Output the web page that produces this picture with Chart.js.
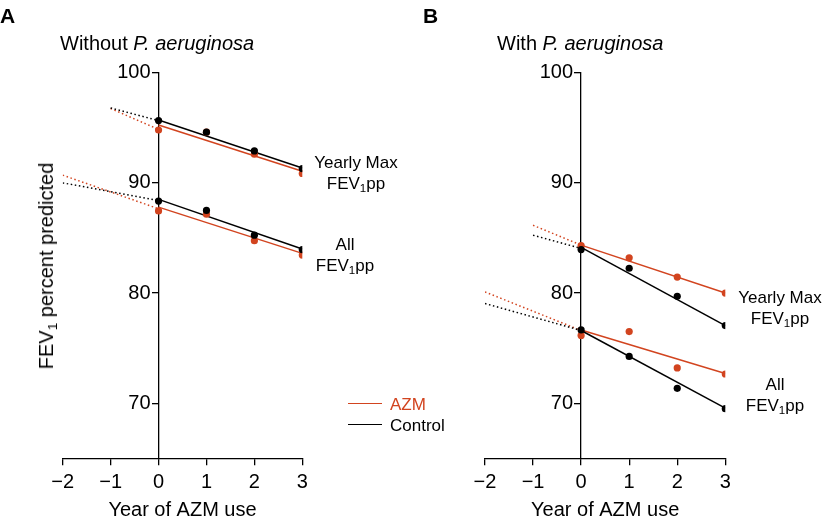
<!DOCTYPE html>
<html>
<head>
<meta charset="utf-8">
<script src="https://cdn.jsdelivr.net/npm/chart.js@4.4.0/dist/chart.umd.min.js"></script>
<style>
  body { margin: 0; background: #fff; }
  #wrap { position: relative; width: 825px; height: 523px; overflow: hidden;
          font-family: 'Liberation Sans', Arial, Helvetica, sans-serif; color: #000; }
  canvas { position: absolute; top: 0; }
  .t { position: absolute; white-space: nowrap; line-height: 1; }
  .ann { position: absolute; white-space: nowrap; font-size: 17px; line-height: 21px; text-align: center; transform: translateX(-50%); }
  .s { font-size: 68%; position: relative; top: 0.3em; line-height: 0; }
  .leg { position: absolute; height: 0; border-top: 1.5px solid; width: 34px; }
</style>
</head>
<body>
<div id="wrap">
  <canvas id="panelA" width="412" height="523" style="left:0;width:412px;height:523px"></canvas>
  <canvas id="panelB" width="413" height="523" style="left:412px;width:413px;height:523px"></canvas>

  <div class="t" style="left:0;top:5px;font-size:21px;font-weight:bold">A</div>
  <div class="t" style="left:423px;top:5px;font-size:21px;font-weight:bold">B</div>
  <div class="t" style="left:60px;top:33px;font-size:20px">Without <i>P. aeruginosa</i></div>
  <div class="t" style="left:497px;top:33px;font-size:20px">With <i>P. aeruginosa</i></div>

  <div class="t" style="left:46px;top:266px;font-size:20px;transform:translate(-50%,-50%) rotate(-90deg)">FEV<span class="s">1</span> percent predicted</div>

  <div class="ann" style="left:356px;top:152px">Yearly Max<br>FEV<span class="s">1</span>pp</div>
  <div class="ann" style="left:345px;top:234px">All<br>FEV<span class="s">1</span>pp</div>
  <div class="ann" style="left:780px;top:287px">Yearly Max<br>FEV<span class="s">1</span>pp</div>
  <div class="ann" style="left:775px;top:374px">All<br>FEV<span class="s">1</span>pp</div>

  <div class="leg" style="left:348px;top:403px;border-color:#d2441f"></div>
  <div class="t" style="left:390px;top:396px;font-size:17px;color:#d2441f">AZM</div>
  <div class="leg" style="left:348px;top:424px;border-color:#000"></div>
  <div class="t" style="left:390px;top:417px;font-size:17px">Control</div>
</div>

<script>
// x values and tick labels
const years = [0, 1, 2, 3];
const fitYears = [0, 3];
const maxPreYears = [-1, 0];
const allPreYears = [-2, 0];
const xTicks = [-2, -1, 0, 1, 2, 3];
const yTicks = [70, 80, 90, 100];

// Panel A - without P. aeruginosa
const maxAzmA = [94.8, 94.6, 92.6, 90.85];
const maxCtrlA = [95.65, 94.6, 92.9, 91.3];
const allAzmA = [87.45, 87.15, 84.75, 83.45];
const allCtrlA = [88.35, 87.5, 85.25, 83.95];
const maxAzmFitA = [95.25, 91.05];
const maxCtrlFitA = [95.7, 91.35];
const allAzmFitA = [87.8, 83.6];
const allCtrlFitA = [88.5, 84.0];
const maxAzmPreA = [96.75, 94.85];
const maxCtrlPreA = [96.8, 95.65];
const allAzmPreA = [90.7, 87.65];
const allCtrlPreA = [90.0, 88.4];

// Panel B - with P. aeruginosa
const maxAzmB = [84.3, 83.2, 81.45, 80.0];
const maxCtrlB = [83.95, 82.25, 79.7, 77.05];
const allAzmB = [76.15, 76.5, 73.2, 72.65];
const allCtrlB = [76.65, 74.25, 71.35, 69.5];
const maxAzmFitB = [84.35, 80.0];
const maxCtrlFitB = [84.15, 77.05];
const allAzmFitB = [76.65, 72.7];
const allCtrlFitB = [76.6, 69.55];
const maxAzmPreB = [86.15, 84.35];
const maxCtrlPreB = [85.25, 84.05];
const allAzmPreB = [80.1, 76.6];
const allCtrlPreB = [79.05, 76.6];

const RED = '#d2441f';
const BLACK = '#000';
const FONT = "'Liberation Sans', Arial, Helvetica, sans-serif";

const toPts = (xs, ys) => xs.map((x, i) => ({ x: x, y: ys[i] }));

const line = (xs, ys, color, dotted) => ({
    data: toPts(xs, ys),
    showLine: true,
    borderColor: color,
    borderWidth: 1.5,
    borderDash: dotted ? [1.5, 2.6] : [],
    pointRadius: 0,
    pointHoverRadius: 0
});

const dots = (ys, color) => ({
    data: toPts(years, ys),
    showLine: false,
    pointRadius: 3.6,
    pointHoverRadius: 3.6,
    pointBackgroundColor: color,
    pointBorderWidth: 0
});

// first dataset is drawn on top
const makeDatasets = (p) => [
    dots(p.maxCtrl, BLACK), dots(p.allCtrl, BLACK),
    dots(p.maxAzm, RED), dots(p.allAzm, RED),
    line(fitYears, p.maxCtrlFit, BLACK), line(fitYears, p.allCtrlFit, BLACK),
    line(fitYears, p.maxAzmFit, RED), line(fitYears, p.allAzmFit, RED),
    line(maxPreYears, p.maxCtrlPre, BLACK, true), line(allPreYears, p.allCtrlPre, BLACK, true),
    line(maxPreYears, p.maxAzmPre, RED, true), line(allPreYears, p.allAzmPre, RED, true)
];

const tickFont = { family: FONT, size: 20 };

const makeChart = (id, pad, p) => new Chart(document.getElementById(id), {
    type: 'scatter',
    data: { datasets: makeDatasets(p) },
    options: {
        responsive: false,
        devicePixelRatio: 1,
        animation: false,
        layout: { padding: pad },
        plugins: { legend: { display: false }, tooltip: { enabled: false } },
        scales: {
            x: {
                type: 'linear',
                min: -2,
                max: 3,
                afterBuildTicks: s => { s.ticks = xTicks.map(v => ({ value: v })); },
                afterFit: s => { s.height = 523 - 458.3; },
                ticks: {
                    color: BLACK,
                    font: tickFont,
                    padding: 5,
                    maxRotation: 0,
                    autoSkip: false,
                    callback: v => String(v).replace('-', '\u2212')
                },
                grid: { drawOnChartArea: false, drawTicks: true, tickLength: 7, color: BLACK, lineWidth: 1.3 },
                border: { display: true, color: BLACK, width: 1.3 },
                title: {
                    display: true,
                    text: 'Year of AZM use',
                    color: BLACK,
                    font: { family: FONT, size: 20 },
                    padding: { top: 0, bottom: 1 }
                }
            },
            y: {
                type: 'linear',
                min: 65,
                max: 100,
                position: { x: 0 },
                afterBuildTicks: s => { s.ticks = yTicks.map(v => ({ value: v })); },
                // labels of an axis placed at x = 0 sit right on the line, so pad them with thin spaces
                ticks: { color: BLACK, font: tickFont, callback: v => v + '\u2009\u2009' },
                grid: { drawOnChartArea: false, drawTicks: true, tickLength: 6, color: BLACK, lineWidth: 1.3 },
                border: { display: true, color: BLACK, width: 1.3 }
            }
        }
    }
});

makeChart('panelA', { left: 62.7, right: 412 - 302.3, top: 72.7, bottom: 0 }, {
    maxAzm: maxAzmA, maxCtrl: maxCtrlA, allAzm: allAzmA, allCtrl: allCtrlA,
    maxAzmFit: maxAzmFitA, maxCtrlFit: maxCtrlFitA, allAzmFit: allAzmFitA, allCtrlFit: allCtrlFitA,
    maxAzmPre: maxAzmPreA, maxCtrlPre: maxCtrlPreA, allAzmPre: allAzmPreA, allCtrlPre: allCtrlPreA
});

makeChart('panelB', { left: 485 - 412, right: 413 - (725.3 - 412), top: 72.7, bottom: 0 }, {
    maxAzm: maxAzmB, maxCtrl: maxCtrlB, allAzm: allAzmB, allCtrl: allCtrlB,
    maxAzmFit: maxAzmFitB, maxCtrlFit: maxCtrlFitB, allAzmFit: allAzmFitB, allCtrlFit: allCtrlFitB,
    maxAzmPre: maxAzmPreB, maxCtrlPre: maxCtrlPreB, allAzmPre: allAzmPreB, allCtrlPre: allCtrlPreB
});
</script>
</body>
</html>
